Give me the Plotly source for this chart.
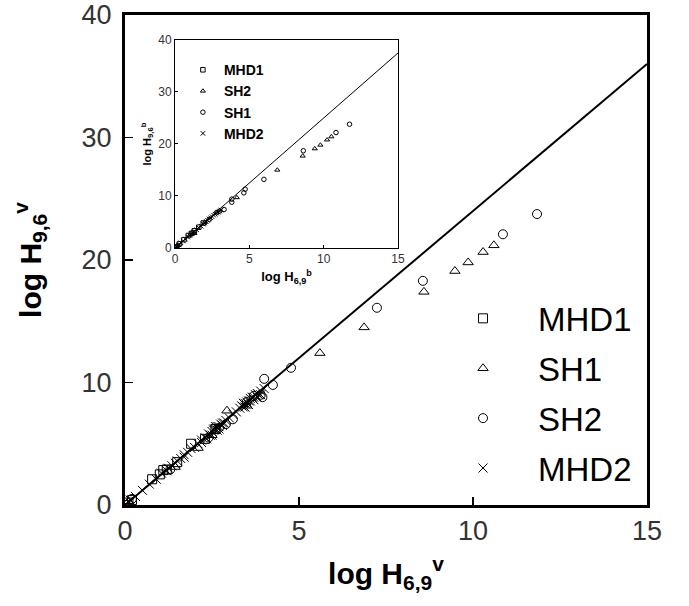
import plotly.graph_objects as go

# ---------------- main panel data (log H_6,9^v vs log H_9,6^v) ----------------
mhd1_x = [0.0, 0.1, 0.2, 0.78, 1.0, 1.1, 1.2, 1.5, 1.9, 2.3, 2.6]
mhd1_y = [0.0, 0.2, 0.4, 2.1, 2.5, 2.85, 2.9, 3.5, 5.0, 5.4, 6.2]

sh1_x = [0.1, 1.44, 2.1, 2.5, 2.93, 3.5, 5.6, 6.87, 8.59, 9.48, 9.86, 10.29, 10.6]
sh1_y = [0.3, 3.1, 4.65, 5.7, 7.7, 8.1, 12.4, 14.5, 17.4, 19.1, 19.8, 20.65, 21.2]

sh2_x = [0.2, 1.3, 2.4, 2.7, 2.9, 3.1, 3.5, 3.7, 3.9, 3.95, 4.0, 4.25, 4.77, 7.24, 8.56, 10.86, 11.84]
sh2_y = [0.5, 2.9, 5.5, 6.3, 6.6, 7.0, 8.4, 8.9, 9.0, 8.8, 10.3, 9.8, 11.2, 16.1, 18.3, 22.1, 23.75]

mhd2_x = [0.15, 0.3, 0.5, 0.7, 0.9, 1.05, 1.2, 1.35, 1.5, 1.6, 1.7, 1.8, 1.9, 2.0,
          2.1, 2.2, 2.3, 2.4, 2.45, 2.5, 2.55, 2.6, 2.65, 2.7, 2.75, 2.8, 2.85, 2.9,
          3.0, 3.1, 3.2, 3.3, 3.35, 3.4, 3.45, 3.5, 3.55, 3.6, 3.65, 3.7, 3.75, 3.8,
          3.85, 3.9, 4.0, 2.5, 2.6, 2.7, 3.4, 3.6, 3.8, 1.7, 2.2,
          2.35, 2.55, 2.65, 2.8, 3.45, 3.55, 3.7, 3.9, 1.25, 1.45]
mhd2_y = [0.4, 0.7, 1.2, 1.7, 2.1, 2.6, 2.8, 3.2, 3.6, 3.8, 4.1, 4.3, 4.6, 4.7,
          5.0, 5.3, 5.5, 5.8, 5.7, 6.0, 6.1, 6.2, 6.4, 6.4, 6.6, 6.7, 6.7, 6.9,
          7.1, 7.4, 7.6, 7.9, 8.1, 8.0, 8.3, 8.4, 8.5, 8.5, 8.8, 8.8, 9.0, 9.1,
          9.0, 9.3, 9.5, 5.7, 6.4, 6.2, 8.3, 8.7, 8.8, 3.9, 5.1,
          5.4, 6.2, 6.1, 6.5, 8.0, 8.2, 8.6, 9.0, 3.0, 3.4]

line_x = [0, 15]
line_y = [0, 36]

# ---------------- inset data (log H_6,9^b vs log H_9,6^b) ----------------
in_mhd1_x = [0.0, 0.1, 0.3, 0.6, 0.9, 1.1, 1.3, 1.6, 1.9]
in_mhd1_y = [0.0, 0.2, 0.8, 1.6, 2.4, 2.8, 3.3, 4.0, 4.8]

in_sh2_x = [0.1, 1.0, 1.3, 2.0, 4.16, 6.88, 8.59, 9.4, 9.78, 10.23, 10.52]
in_sh2_y = [0.3, 2.5, 2.8, 4.9, 9.7, 15.0, 17.7, 19.1, 19.8, 20.8, 21.4]

in_sh1_x = [0.2, 1.2, 2.3, 2.8, 3.0, 3.3, 3.82, 3.82, 4.63, 4.72, 5.98, 8.63, 10.83, 11.74]
in_sh1_y = [0.5, 3.0, 5.5, 6.8, 7.1, 7.4, 8.8, 9.4, 10.6, 11.3, 13.2, 18.7, 22.2, 23.8]

in_mhd2_x = [0.1, 0.25, 0.4, 0.55, 0.7, 0.85, 1.0, 1.15, 1.3, 1.45, 1.6, 1.75, 1.9,
             2.0, 2.1, 2.2, 2.3, 2.4, 2.5, 2.6, 2.7, 2.8, 2.9, 3.0, 3.1]
in_mhd2_y = [0.25, 0.6, 1.0, 1.35, 1.7, 2.1, 2.4, 2.8, 3.1, 3.5, 3.9, 4.2, 4.6,
             4.8, 5.1, 5.3, 5.6, 5.8, 6.0, 6.3, 6.5, 6.7, 6.9, 7.1, 7.3]

in_line_x = [0, 15]
in_line_y = [0, 37.5]

main_ticks_x = [0, 5, 10, 15]
main_ticks_y = [0, 10, 20, 30, 40]

BLACK = "#000000"
MS = 9
IMS = 4.5

fig = go.Figure()

def add_pts(x, y, name, symbol, size, xa, ya, legend, lw=1):
    fig.add_trace(go.Scatter(
        x=x, y=y, mode="markers", name=name,
        marker=dict(symbol=symbol, size=size, color=BLACK,
                    line=dict(color=BLACK, width=lw)),
        xaxis=xa, yaxis=ya, legend=legend, legendgroup=legend + name,
        showlegend=True))

# main line
fig.add_trace(go.Scatter(x=line_x, y=line_y, mode="lines",
                         line=dict(color=BLACK, width=2), showlegend=False,
                         xaxis="x", yaxis="y"))
add_pts(mhd1_x, mhd1_y, "MHD1", "square-open", MS, "x", "y", "legend")
add_pts(sh1_x, sh1_y, "SH1", "triangle-up-open", MS, "x", "y", "legend")
add_pts(sh2_x, sh2_y, "SH2", "circle-open", MS, "x", "y", "legend")
add_pts(mhd2_x, mhd2_y, "MHD2", "x-thin-open", MS, "x", "y", "legend")

# inset
fig.add_trace(go.Scatter(x=in_line_x, y=in_line_y, mode="lines",
                         line=dict(color=BLACK, width=1), showlegend=False,
                         xaxis="x2", yaxis="y2"))
add_pts(in_mhd1_x, in_mhd1_y, "MHD1", "square-open", IMS, "x2", "y2", "legend2")
add_pts(in_sh2_x, in_sh2_y, "SH2", "triangle-up-open", IMS, "x2", "y2", "legend2")
add_pts(in_sh1_x, in_sh1_y, "SH1", "circle-open", IMS, "x2", "y2", "legend2")
add_pts(in_mhd2_x, in_mhd2_y, "MHD2", "x-thin-open", IMS, "x2", "y2", "legend2")

tickfont_main = dict(family="Liberation Sans", size=27, color="#333333")
titlefont_main = dict(family="Liberation Sans", size=30, color=BLACK, weight="bold")

fig.update_layout(
    width=689, height=606,
    margin=dict(l=125, r=42, t=15, b=101, autoexpand=False),
    paper_bgcolor="white", plot_bgcolor="white",
    hovermode=False,
    xaxis=dict(range=[0, 15], tickvals=main_ticks_x, showgrid=False, zeroline=False,
               showline=True, linewidth=3, linecolor=BLACK, mirror=True,
               ticks="inside", ticklen=8, tickwidth=1.2, tickcolor=BLACK,
               tickfont=tickfont_main, automargin=False, ticklabeloverflow="allow",
               title=dict(text="log H<sub>6,9</sub><sup>v</sup>", font=titlefont_main,
                          standoff=18)),
    yaxis=dict(range=[0, 40], tickvals=main_ticks_y, showgrid=False, zeroline=False,
               showline=True, linewidth=3, linecolor=BLACK, mirror=True,
               ticks="inside", ticklen=8, tickwidth=1.2, tickcolor=BLACK,
               tickfont=tickfont_main, automargin=False, ticklabelstandoff=5,
               ticklabeloverflow="allow",
               title=dict(text="log H<sub>9,6</sub><sup>v</sup>", font=titlefont_main,
                          standoff=32)),
    xaxis2=dict(domain=[0.0958, 0.523], anchor="y2", range=[0, 15],
                tickvals=[0, 5, 10, 15], showgrid=False, zeroline=False,
                showline=True, linewidth=1, linecolor=BLACK, mirror=True,
                ticks="inside", ticklen=3, tickwidth=1, tickcolor=BLACK,
                tickfont=dict(family="Liberation Sans", size=12, color="#333333"),
                automargin=False, ticklabeloverflow="allow",
                title=dict(text="log H<sub>6,9</sub><sup>b</sup>",
                           font=dict(family="Liberation Sans", size=13, color=BLACK,
                                     weight="bold"), standoff=6)),
    yaxis2=dict(domain=[0.5245, 0.949], anchor="x2", range=[0, 40],
                tickvals=[0, 10, 20, 30, 40], showgrid=False, zeroline=False,
                showline=True, linewidth=1, linecolor=BLACK, mirror=True,
                ticks="inside", ticklen=3, tickwidth=1, tickcolor=BLACK,
                tickfont=dict(family="Liberation Sans", size=12, color="#333333"),
                automargin=False, ticklabeloverflow="allow",
                title=dict(text="log H<sub>9,6</sub><sup>b</sup>",
                           font=dict(family="Liberation Sans", size=11, color=BLACK,
                                     weight="bold"), standoff=4)),
    legend=dict(x=0.5805, y=0.438, xanchor="left", yanchor="top",
                bgcolor="rgba(0,0,0,0)", borderwidth=0, itemwidth=100,
                tracegroupgap=4,
                font=dict(family="Liberation Sans", size=33, color=BLACK)),
    legend2=dict(x=0.109, y=0.92, xanchor="left", yanchor="top",
                 bgcolor="rgba(0,0,0,0)", borderwidth=0, itemwidth=32,
                 tracegroupgap=0,
                 font=dict(family="Liberation Sans", size=14, color=BLACK,
                           weight="bold")),
)

fig.write_html("out.html",
               config={"displayModeBar": False, "staticPlot": True},
               post_script="document.body.style.margin='0';")
